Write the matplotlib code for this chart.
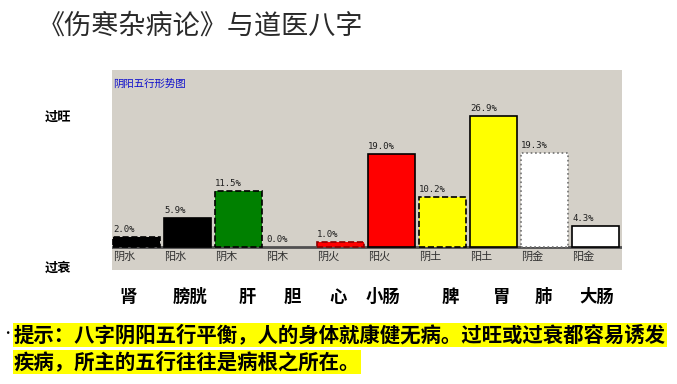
import matplotlib
matplotlib.use("Agg")
import matplotlib.pyplot as plt

plt.rcParams['font.family'] = ['Noto Sans CJK SC', 'DejaVu Sans']

categories = ["阴水", "阳水", "阴木", "阳木", "阴火", "阳火", "阴土", "阳土", "阴金", "阳金"]
values = [2.0, 5.9, 11.5, 0.0, 1.0, 19.0, 10.2, 26.9, 19.3, 4.3]
organs = ["肾", "膀胱", "肝", "胆", "心", "小肠", "脾", "胃", "肺", "大肠"]
organ_x_px = [128, 190, 247, 292, 338, 383, 450, 502, 543, 597]
fills = ["#000000", "#000000", "#008000", "#000000", "#FF0000", "#FF0000",
         "#FFFF00", "#FFFF00", "#FFFFFF", "#FFFFFF"]
edges = ["#000000", "#000000", "#000000", "#000000", "#8B0000", "#000000",
         "#000000", "#000000", "#707070", "#000000"]
styles = ["--", "-", "--", "-", "--", "-", "--", "-", ":", "-"]

W, H = 677, 384
fig = plt.figure(figsize=(W / 100, H / 100), dpi=100)
fig.patch.set_facecolor("white")

left, right, top, bottom = 112, 622, 70, 270
ax = fig.add_axes([left / W, 1 - bottom / H, (right - left) / W, (bottom - top) / H])
ax.set_facecolor("#D4D0C8")
for s in ax.spines.values():
    s.set_visible(False)
ax.set_xticks([])
ax.set_yticks([])

px_per = 4.87
ax.set_ylim(-(bottom - 247) / px_per, (247 - top) / px_per)
ax.set_xlim(-0.48, 9.52)

bw = 0.92
for i, (v, f, e, ls) in enumerate(zip(values, fills, edges, styles)):
    if v > 0:
        ax.bar(i, v, width=bw, color=f, edgecolor=e, linestyle=ls, linewidth=1.2, zorder=2)
    ax.text(i - bw / 2, v + 0.7, f"{v:.1f}%", fontsize=6.5, family=["DejaVu Sans Mono"],
            ha="left", va="bottom", color="#202020", zorder=3)
    ax.text(i - bw / 2, -0.9, categories[i], fontsize=8, ha="left", va="top",
            color="#303030", zorder=3)

ax.axhline(0, color="#505050", linewidth=2, zorder=1)
ax.text(0.002, 0.93, "阴阳五行形势图", transform=ax.transAxes, fontsize=7.5,
        color="#1010CC", ha="left", va="center")

# Title
fig.text(38 / W, 1 - 26 / H, "《伤寒杂病论》与道医八字", fontsize=19.5, color="#2a2a2a",
         fontweight="medium", ha="left", va="center")

fig.text(45 / W, 1 - 117 / H, "过旺", fontsize=9.5, fontweight="bold", ha="left", va="center")
fig.text(45 / W, 1 - 268 / H, "过衰", fontsize=9.5, fontweight="bold", ha="left", va="center")

for x, o in zip(organ_x_px, organs):
    fig.text(x / W, 1 - 297 / H, o, fontsize=12.5, fontweight="bold", ha="center", va="center")

fig.text(1 / W, 1 - 334 / H, "•", fontsize=9, ha="left", va="center")
line1 = "提示：八字阴阳五行平衡，人的身体就康健无病。过旺或过衰都容易诱发"
line2 = "疾病，所主的五行往往是病根之所在。"
for y, t in [(335, line1), (362, line2)]:
    fig.text(14 / W, 1 - y / H, t, fontsize=14.7, fontweight="bold", ha="left", va="center",
             bbox=dict(facecolor="#FFFF00", edgecolor="none", pad=0.8))

fig.savefig("out.png", dpi=100)
